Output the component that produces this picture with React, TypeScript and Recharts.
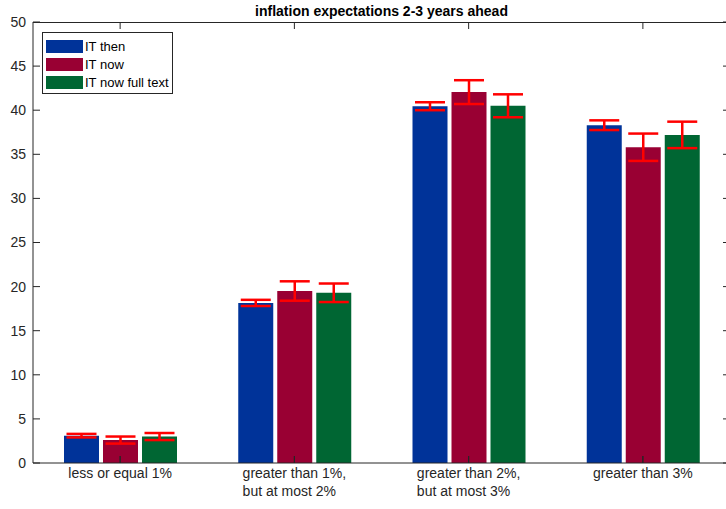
import { BarChart, Bar, XAxis, YAxis, ErrorBar } from 'recharts';

const FONT = "'Liberation Sans', Arial, Helvetica, sans-serif";
const AXIS = '#262626';

const categories = [
  'less or equal 1%',
  'greater than 1%,\nbut at most 2%',
  'greater than 2%,\nbut at most 3%',
  'greater than 3%',
];

const itThen = [3.1, 18.15, 40.45, 38.3];
const itThenErr = [0.2, 0.35, 0.45, 0.55];
const itNow = [2.6, 19.5, 42.05, 35.8];
const itNowErr = [0.4, 1.1, 1.35, 1.55];
const itFull = [3.0, 19.3, 40.5, 37.2];
const itFullErr = [0.4, 1.05, 1.3, 1.5];

const yTicks = [0, 5, 10, 15, 20, 25, 30, 35, 40, 45, 50];
const Y_MAX = 50;

// plot box in page pixels
const CHART_W = 736;
const CHART_H = 509;
const BOX = { left: 33, top: 22, right: 730, bottom: 463 };
const TICK = 7;

const series = [
  { key: 'then', err: 'thenErr', name: 'IT then', color: '#003399' },
  { key: 'now', err: 'nowErr', name: 'IT now', color: '#990033' },
  { key: 'full', err: 'fullErr', name: 'IT now full text', color: '#006633' },
];

const rows = categories.map((cat, i) => ({
  cat,
  then: itThen[i],
  thenErr: itThenErr[i],
  now: itNow[i],
  nowErr: itNowErr[i],
  full: itFull[i],
  fullErr: itFullErr[i],
}));

let ctx: CanvasRenderingContext2D | null = null;
function textWidth(s: string) {
  if (!ctx) ctx = document.createElement('canvas').getContext('2d');
  if (!ctx) return s.length * 7;
  ctx.font = `14px ${FONT}`;
  return ctx.measureText(s).width;
}

// multi-line category labels: lines share a left edge, block centred on the tick
function CategoryTick(props: any) {
  const { x, y, payload } = props;
  const lines = String(payload.value).split('\n');
  const w = Math.max(...lines.map(textWidth));
  return (
    <g>
      {lines.map((line, i) => (
        <text
          key={i}
          x={x - w / 2}
          y={y + 15 + i * 18}
          textAnchor="start"
          fontSize={14}
          fontFamily={FONT}
          fill={AXIS}
        >
          {line}
        </text>
      ))}
    </g>
  );
}

// top and right edges of the box, plus category ticks drawn over the bars
function BoxEdges() {
  const band = (BOX.right - BOX.left) / categories.length;
  const yPx = (v: number) => BOX.bottom - (v / Y_MAX) * (BOX.bottom - BOX.top);
  return (
    <svg
      width={CHART_W}
      height={CHART_H}
      style={{ position: 'absolute', left: 0, top: 0, pointerEvents: 'none' }}
    >
      <rect x={BOX.left} y={BOX.top} width={BOX.right - BOX.left} height={1} fill={AXIS} />
      <line x1={BOX.right - 0.5} x2={BOX.right - 0.5} y1={BOX.top} y2={BOX.bottom} stroke={AXIS} />
      {categories.map((c, i) => {
        const x = BOX.left + band * (i + 0.5);
        return (
          <g key={c}>
            <line x1={x} x2={x} y1={BOX.top} y2={BOX.top + TICK} stroke={AXIS} />
            <line x1={x} x2={x} y1={BOX.bottom - TICK} y2={BOX.bottom} stroke={AXIS} />
          </g>
        );
      })}
      {yTicks.map((t) => (
        <line key={t} x1={BOX.right - TICK} x2={BOX.right} y1={yPx(t)} y2={yPx(t)} stroke={AXIS} />
      ))}
    </svg>
  );
}

function LegendBox() {
  return (
    <div
      style={{
        position: 'absolute',
        left: 42,
        top: 32,
        border: `1px solid ${AXIS}`,
        background: '#fff',
        width: 131,
        padding: '4px 0 2px 3px',
        boxSizing: 'border-box',
        fontFamily: FONT,
        fontSize: 13,
        color: '#000',
      }}
    >
      {series.map((s) => (
        <div key={s.key} style={{ display: 'flex', alignItems: 'center', height: 18 }}>
          <span style={{ width: 37, height: 13, background: s.color, marginRight: 2 }} />
          <span>{s.name}</span>
        </div>
      ))}
    </div>
  );
}

export default function App() {
  return (
    <div style={{ position: 'absolute', left: 0, top: 0, width: 726, height: 509, overflow: 'hidden', background: '#fff' }}>
      <BarChart
        width={CHART_W}
        height={CHART_H}
        data={rows}
        margin={{ top: BOX.top, right: CHART_W - BOX.right, bottom: 0, left: 0 }}
        barGap={4}
        barSize={35}
      >
        <XAxis
          xAxisId="b"
          dataKey="cat"
          height={CHART_H - BOX.bottom}
          tickSize={-TICK}
          tickMargin={7}
          tick={<CategoryTick />}
          stroke={AXIS}
          interval={0}
        />
        <YAxis
          yAxisId="l"
          width={BOX.left}
          domain={[0, Y_MAX]}
          ticks={yTicks}
          tickSize={-TICK}
          tickMargin={14}
          stroke={AXIS}
          tick={{ fill: AXIS, fontSize: 14, fontFamily: FONT }}
        />
        {series.map((s) => (
          <Bar
            key={s.key}
            xAxisId="b"
            yAxisId="l"
            dataKey={s.key}
            name={s.name}
            fill={s.color}
            isAnimationActive={false}
          >
            <ErrorBar dataKey={s.err} width={15} strokeWidth={2.5} stroke="#ff0000" direction="y" />
          </Bar>
        ))}
      </BarChart>
      <BoxEdges />
      <div
        style={{
          position: 'absolute',
          left: 0,
          top: 3,
          width: BOX.left + BOX.right,
          lineHeight: '16px',
          textAlign: 'center',
          fontFamily: FONT,
          fontWeight: 'bold',
          fontSize: 14,
          color: '#000',
        }}
      >
        inflation expectations 2-3 years ahead
      </div>
      <LegendBox />
    </div>
  );
}
